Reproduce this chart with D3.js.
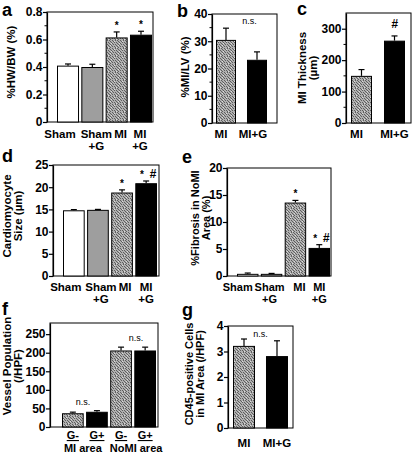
<!DOCTYPE html>
<html><head><meta charset="utf-8">
<script src="https://cdn.jsdelivr.net/npm/d3@7"></script>
<style>
html,body{margin:0;padding:0;background:#fff;}
svg{display:block;}
text{font-family:Arial,"Liberation Sans",sans-serif;}
</style></head><body>
<svg id="chart" width="413" height="457"></svg>
<script>
// ---------------- data ----------------
const catsA = ["Sham","Sham+G","MI","MI+G"];
const valuesA = [0.41,0.40,0.615,0.635];
const errorsA = [0.012,0.02,0.04,0.025];
const marksA = ["","","*","*"];
const ticksA = [0,0.2,0.4,0.6,0.8];

const catsB = ["MI","MI+G"];
const valuesB = [30.5,23.2];
const errorsB = [4.3,2.9];
const ticksB = [0,10,20,30,40];

const catsC = ["MI","MI+G"];
const valuesC = [150,262];
const errorsC = [20,15];
const marksC = ["","#"];
const ticksC = [0,100,200,300];

const catsD = ["Sham","Sham+G","MI","MI+G"];
const valuesD = [14.8,14.9,18.8,20.9];
const errorsD = [0.15,0.1,0.6,0.5];
const marksD = ["","","*","* #"];
const ticksD = [0,5,10,15,20,25];

const catsE = ["Sham","Sham+G","MI","MI+G"];
const valuesE = [0.4,0.4,13.6,5.2];
const errorsE = [0.15,0.08,0.4,0.6];
const marksE = ["","","*","* #"];
const ticksE = [0,5,10,15,20];

const catsF = ["G-","G+","G-","G+"];
const groupsF = ["MI area","NoMI area"];
const valuesF = [37,41,206,206];
const errorsF = [3,3,9,9];
const ticksF = [0,50,100,150,200,250];

const catsG = ["MI","MI+G"];
const valuesG = [3.22,2.82];
const errorsG = [0.27,0.6];
const ticksG = [0,1,2,3,4];

// ---------------- drawing ----------------
const svg = d3.select("#chart");
const defs = svg.append("defs");
const pat = defs.append("pattern").attr("id","stipple").attr("patternUnits","userSpaceOnUse")
  .attr("width",8).attr("height",8);
pat.append("rect").attr("width",8).attr("height",8).attr("fill","#b0b0b0");
const darkDots = [[0,0],[3,0],[5,0],[1,1],[6,1],[2,2],[4,2],[7,2],[0,3],[5,3],
  [1,4],[3,4],[6,4],[4,5],[7,5],[0,6],[2,6],[5,6],[3,7],[6,7]];
const lightDots = [[2,1],[6,5],[4,7],[7,3]];
darkDots.forEach(p=>pat.append("rect").attr("x",p[0]).attr("y",p[1]).attr("width",1).attr("height",1).attr("fill","#5e5e5e"));
lightDots.forEach(p=>pat.append("rect").attr("x",p[0]).attr("y",p[1]).attr("width",1).attr("height",1).attr("fill","#dcdcdc"));

function fillFor(c){
  if(c==="Sham") return "#ffffff";
  if(c==="Sham+G") return "#9e9e9e";
  if(c==="MI"||c==="G-") return "url(#stipple)";
  return "#000000";
}

const FS = 11.5;

function drawPanel(cfg){
  const g = svg.append("g");
  const y = d3.scaleLinear().domain([0,cfg.max]).range([cfg.yBot,cfg.yTop]);
  const x = d3.scaleBand().domain(d3.range(cfg.cats.length)).range(cfg.band).paddingInner(cfg.pad).paddingOuter(0);
  // frame
  g.append("rect").attr("x",cfg.axis).attr("y",cfg.yTop).attr("width",cfg.frame-cfg.axis)
    .attr("height",cfg.yBot-cfg.yTop).attr("fill","none").attr("stroke","#000").attr("stroke-width",1);
  // bars
  g.selectAll(".bar").data(cfg.values).enter().append("rect")
    .attr("x",(d,i)=>x(i)+0.5).attr("y",d=>y(d)+0.5).attr("width",x.bandwidth()-1)
    .attr("height",d=>y(0)-y(d)-0.5).attr("fill",(d,i)=>fillFor(cfg.cats[i]))
    .attr("stroke","#000").attr("stroke-width",1);
  // error bars
  cfg.values.forEach((v,i)=>{
    const cx = x(i)+x.bandwidth()/2;
    const top = y(v+cfg.errors[i]);
    g.append("line").attr("x1",cx).attr("x2",cx).attr("y1",y(v)).attr("y2",top).attr("stroke","#000").attr("stroke-width",1.2);
    g.append("line").attr("x1",cx-3).attr("x2",cx+3).attr("y1",top).attr("y2",top).attr("stroke","#000").attr("stroke-width",1.2);
    const m = cfg.marks ? cfg.marks[i] : "";
    if(m){
      const t = g.append("text").attr("x",cx+(m.length>1?2:0)).attr("y",top-(m==="#"?8:3))
        .attr("text-anchor","middle").attr("font-weight","bold");
      m.split("").forEach(ch=>{
        const s = t.append("tspan").text(ch===" "?"\u00a0\u00a0":ch);
        if(ch==="#") s.attr("font-style","italic").attr("font-size",12);
        else s.attr("font-size",10);
      });
    }
  });
  // axis
  const ax = d3.axisLeft(y).tickValues(cfg.ticks).tickSize(4).tickSizeOuter(0).tickPadding(0.5)
    .tickFormat(cfg.fmt || (d=>d));
  const axg = g.append("g").attr("transform",`translate(${cfg.axis},0)`).call(ax);
  axg.selectAll("text").attr("font-size",12).attr("font-weight","bold").attr("fill","#000")
    .attr("font-family","Arial, 'Liberation Sans', sans-serif");
  axg.selectAll("line,path").attr("stroke","#000").attr("stroke-width",1.2);
  if(cfg.minor){
    const minors = d3.range(cfg.minor, cfg.max, cfg.minor*2);
    g.selectAll(".minor").data(minors).enter().append("line")
      .attr("x1",cfg.axis-2.5).attr("x2",cfg.axis).attr("y1",d=>y(d)).attr("y2",d=>y(d))
      .attr("stroke","#000").attr("stroke-width",1);
  }
  // x labels
  cfg.cats.forEach((c,i)=>{
    const cx = x(i)+x.bandwidth()/2 + (cfg.dx?cfg.dx[i]:0);
    const lines = cfg.split ? c.split(/(?=\+)/) : [c];
    lines.forEach((ln,k)=>{
      const t = g.append("text").attr("x",cx).attr("y",cfg.labelY+k*12).attr("text-anchor","middle")
        .attr("font-size",cfg.xfs||FS).attr("font-weight","bold").text(ln);
      if(cfg.underline) t.attr("text-decoration","underline");
    });
  });
  // y label
  cfg.ylabel.forEach((ln,k)=>{
    const lx = cfg.ylx + k*11;
    g.append("text").attr("transform",`translate(${lx},${cfg.yly}) rotate(-90)`)
      .attr("dy","0.35em").attr("text-anchor","middle").attr("font-size",cfg.yfs||11.5).attr("font-weight","bold").text(ln);
  });
  // panel letter
  g.append("text").attr("x",cfg.lx).attr("y",cfg.ly).attr("font-size",18).attr("font-weight","bold").text(cfg.letter);
  return {x,y,g};
}

const fmtA = d=> d===0 ? "0" : d.toFixed(1);

drawPanel({cats:catsA,values:valuesA,errors:errorsA,marks:marksA,ticks:ticksA,fmt:fmtA,
  axis:47,frame:153,yTop:12,yBot:122,max:0.8,band:[57,152],pad:0.095,minor:0.1,
  labelY:138,dx:[-8,4,4,-1],split:true,ylabel:["%HW/BW (%)"],ylx:11,yly:62,letter:"a",lx:2,ly:16});

const pB = drawPanel({cats:catsB,values:valuesB,errors:errorsB,ticks:ticksB,
  axis:212,frame:277,yTop:14,yBot:123,max:40,band:[216,267],pad:0.355,minor:5,
  labelY:138,dx:[-5,-4],split:false,ylabel:["%MI/LV (%)"],ylx:185,yly:67,letter:"b",lx:177,ly:17});
pB.g.append("text").attr("x",(pB.x(0)+pB.x(1)+pB.x.bandwidth())/2+8).attr("y",24)
  .attr("text-anchor","middle").attr("font-size",9).text("n.s.");

drawPanel({cats:catsC,values:valuesC,errors:errorsC,marks:marksC,ticks:ticksC,
  axis:346,frame:411,yTop:13,yBot:123,max:350,band:[351,405],pad:0.364,minor:50,
  labelY:138,dx:[-5,0],split:false,ylabel:["MI Thickness","(\u00b5m)"],ylx:302,yly:68,letter:"c",lx:297,ly:15});

drawPanel({cats:catsD,values:valuesD,errors:errorsD,marks:marksD,ticks:ticksD,
  axis:53,frame:159,yTop:165,yBot:276,max:25,band:[63,157],pad:0.1,
  labelY:291,dx:[-8,3,3,0],split:true,ylabel:["Cardiomyocyte","Size (\u00b5m)"],ylx:7,yly:216,letter:"d",lx:2,ly:162});

drawPanel({cats:catsE,values:valuesE,errors:errorsE,marks:marksE,ticks:ticksE,
  axis:227,frame:331,yTop:168,yBot:276,max:20,band:[237,330],pad:0.1,xfs:11,
  labelY:291,dx:[-10,-2,4,0],split:true,ylabel:["%Fibrosis in NoMI","Area (%)"],ylx:195,yly:218,yfs:11,letter:"e",lx:182,ly:163});

const pF = drawPanel({cats:catsF,values:valuesF,errors:errorsF,ticks:ticksF,
  axis:50,frame:158,yTop:323,yBot:427,max:280,band:[62,156],pad:0.1,xfs:11,
  labelY:439,split:false,underline:true,ylabel:["Vessel Population","(/HPF)"],ylx:7,yly:366,letter:"f",lx:2,ly:315});
groupsF.forEach((grp,k)=>{
  const a = pF.x(k*2), b = pF.x(k*2+1)+pF.x.bandwidth();
  const cx = (a+b)/2 + (k===0?-2:3);
  pF.g.append("text").attr("x",cx).attr("y",452).attr("text-anchor","middle")
    .attr("font-size",11).attr("font-weight","bold").text(grp);
  const top = Math.max(valuesF[k*2]+errorsF[k*2], valuesF[k*2+1]+errorsF[k*2+1]);
  pF.g.append("text").attr("x",cx).attr("y",pF.y(top)-6).attr("text-anchor","middle")
    .attr("font-size",9).text("n.s.");
});

const pG = drawPanel({cats:catsG,values:valuesG,errors:errorsG,ticks:ticksG,
  axis:228,frame:293,yTop:326,yBot:428,max:4,band:[233,288],pad:0.333,
  labelY:447,split:false,ylabel:["CD45-positive Cells","in MI Area (/HPF)"],ylx:189,yly:374,yfs:11,letter:"g",lx:182,ly:316});
pG.g.append("text").attr("x",(pG.x(0)+pG.x(1)+pG.x.bandwidth())/2).attr("y",337)
  .attr("text-anchor","middle").attr("font-size",9).text("n.s.");
</script>
</body></html>
